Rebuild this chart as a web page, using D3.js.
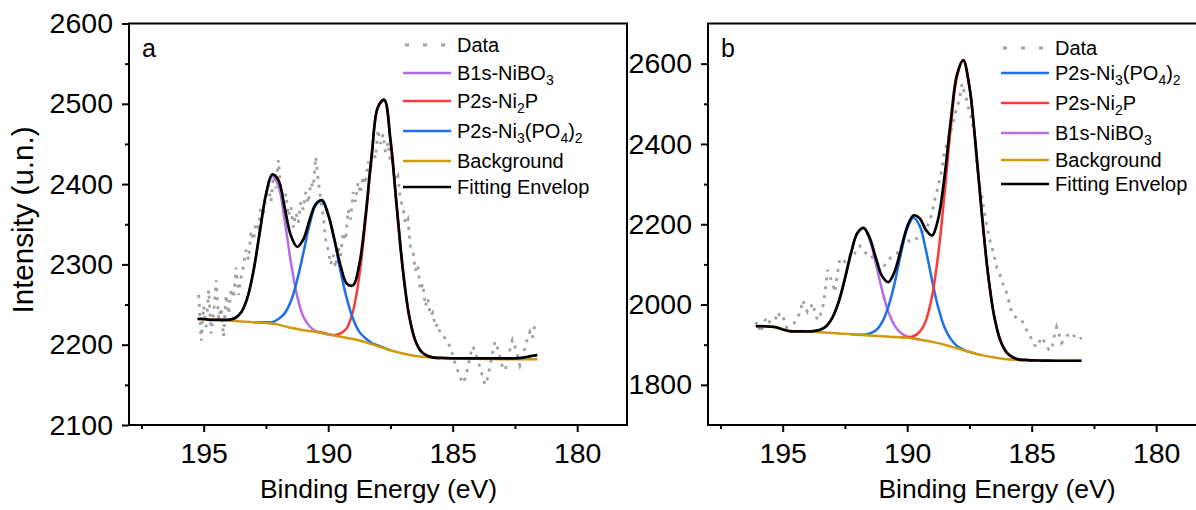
<!DOCTYPE html>
<html>
<head>
<meta charset="utf-8">
<script src="https://cdn.jsdelivr.net/npm/d3@7/dist/d3.min.js"></script>
<style>
  body { margin: 0; background: #fff; }
  text { font-family: Arial, "Liberation Sans", sans-serif; }
</style>
</head>
<body>
<svg id="chart" width="1196" height="510"></svg>
<script>
// ---- data ----
const xTicks = [195, 190, 185, 180]
const xMinor = [197.5, 192.5, 187.5, 182.5]
const yTicksA = [2100, 2200, 2300, 2400, 2500, 2600]
const yMinorA = [2150, 2250, 2350, 2450, 2550]
const yTicksB = [1800, 2000, 2200, 2400, 2600]
const yMinorB = [1700, 1900, 2100, 2300, 2500]

// panel a, raw data (0.1 eV steps from 195.2 eV)
const dataA_start = 195.2
const dataA = [2262,2205,2248,2222,2268,2214,2240,2280,2232,2246,
  2210,2262,2238,2270,2258,2296,2262,2284,2298,2318,
  2306,2342,2330,2352,2346,2372,2360,2384,2398,2378,
  2410,2395,2430,2392,2370,2388,2360,2372,2346,2364,
  2352,2378,2368,2390,2376,2402,2396,2434,2404,2382,
  2360,2330,2318,2300,2312,2296,2322,2310,2340,2330,
  2368,2356,2390,2378,2402,2388,2410,2400,2428,2414,
  2445,2432,2468,2450,2462,2440,2452,2426,2430,2404,
  2410,2380,2372,2350,2356,2322,2318,2292,2300,2268,
  2276,2248,2258,2236,2240,2222,2226,2214,2212,2208,
  2205,2196,2188,2176,2168,2160,2152,2158,2170,2186,
  2198,2192,2180,2172,2160,2150,2158,2174,2190,2204,
  2196,2184,2172,2168,2180,2194,2206,2198,2186,2174,
  2182,2196,2208,2216,2208,2224]

const bgA = [[195.25,2232],[194.5,2231],[194,2230],[193.5,2229],[193,2228],[192.5,2227],[192,2225],[191.5,2221],[191,2218],[190.5,2216],[190,2213],[189.5,2210],[189,2207],[188.5,2203],[188,2198],[187.5,2193],[187,2189],[186.5,2186],[186,2184.5],[185.5,2183.5],[185,2183],[184,2182.5],[183,2182],[182,2182],[181.6,2182]]
const nibo3A = [[194.5,2231],[194.25,2231],[194,2231],[193.75,2233],[193.5,2240],[193.25,2258],[193,2292],[192.75,2339],[192.5,2386],[192.25,2410],[192,2398],[191.75,2355],[191.5,2303],[191.25,2261],[191,2235],[190.75,2223],[190.5,2217],[190.25,2215],[190,2213]]
const ni3po4A = [[193,2228],[192.75,2228],[192.5,2228],[192.25,2228],[192,2232],[191.75,2239],[191.5,2254],[191.25,2280],[191,2314],[190.75,2349],[190.5,2374],[190.25,2379],[190,2362],[189.75,2330],[189.5,2291],[189.25,2257],[189,2232],[188.75,2216],[188.5,2208],[188.25,2202],[188,2199],[187.75,2196],[187.5,2193]]
const ni2pA = [[190.5,2216],[190.25,2215],[190,2213],[189.75,2212],[189.5,2214],[189.25,2221],[189,2242],[188.75,2286],[188.5,2355],[188.25,2436],[188,2496],[187.75,2504],[187.5,2455],[187.25,2373],[187,2293],[186.75,2236],[186.5,2205],[186.25,2191],[186,2186],[185.75,2184],[185.5,2183]]
const envA = [[195.25,2232],[195,2232],[194.75,2231],[194.5,2231],[194.25,2231],[194,2231],[193.75,2233],[193.5,2240],[193.25,2258],[193,2292],[192.75,2340],[192.5,2387],[192.25,2412],[192,2405],[191.75,2371],[191.5,2336],[191.25,2322],[191,2331],[190.75,2355],[190.5,2375],[190.25,2380],[190,2362],[189.75,2331],[189.5,2298],[189.25,2276],[189,2274],[188.75,2300],[188.5,2360],[188.25,2437],[188,2496],[187.75,2505],[187.5,2455],[187.25,2373],[187,2293],[186.75,2236],[186.5,2205],[186.25,2191],[186,2186],[185.75,2184],[185.5,2183.5],[185,2183],[184,2183],[183,2183],[182.5,2183],[182.25,2183.5],[182,2185],[181.75,2186.5],[181.6,2187]]

// panel b, raw data (0.1 eV steps from 196.1 eV)
const dataB_start = 196.1
const dataB = [1950,1957,1930,1944,1962,1969,1952,1941,1962,1981,
  1970,1974,1950,1938,1929,1946,1958,1970,1979,2011,
  1996,1981,1990,2003,1980,1961,1972,1990,2030,2086,
  2070,2052,2031,2078,2115,2112,2106,2110,2122,2134,
  2128,2140,2146,2136,2130,2126,2128,2118,2110,2102,
  2096,2092,2098,2106,2114,2120,2124,2128,2140,2150,
  2156,2160,2158,2162,2160,2166,2172,2180,2190,2193,
  2210,2227,2260,2284,2310,2340,2384,2400,2426,2440,
  2470,2490,2512,2550,2526,2508,2480,2460,2426,2342,
  2300,2267,2230,2193,2164,2143,2118,2092,2078,2060,
  2040,2029,2004,1979,1972,1966,1962,1961,1948,1936,
  1929,1912,1900,1894,1906,1919,1908,1896,1887,1887,
  1920,1944,1926,1904,1912,1920,1929,1929,1922,1916,
  1912,1918]

const bgB = [[196.08,1946],[195.75,1946],[195.5,1945],[195.25,1943],[195,1938],[194.75,1934],[194.5,1933],[194,1933],[193.5,1931],[193,1929],[192.5,1927],[192,1925],[191.5,1923],[191,1921],[190.5,1919],[190,1917],[189.5,1913],[189,1907],[188.5,1900],[188,1891],[187.5,1882],[187,1874],[186.5,1868],[186,1864],[185.5,1862],[185,1861],[184,1860],[183,1860]]
const nibo3B = [[194,1933],[193.75,1934],[193.5,1937],[193.25,1946],[193,1968],[192.75,2007],[192.5,2065],[192.25,2129],[192,2178],[191.75,2190],[191.5,2160],[191.25,2100],[191,2034],[190.75,1981],[190.5,1947],[190.25,1929],[190,1920],[189.75,1916],[189.5,1913]]
const ni3po4B = [[192.25,1926],[192,1925],[191.75,1925],[191.5,1928],[191.25,1936],[191,1957],[190.75,1996],[190.5,2055],[190.25,2127],[190,2189],[189.75,2216],[189.5,2196],[189.25,2136],[189,2060],[188.75,1992],[188.5,1943],[188.25,1914],[188,1897],[187.75,1888],[187.5,1882],[187.25,1878]]
const ni2pB = [[190.25,1918],[190,1919],[189.75,1921],[189.5,1932],[189.25,1960],[189,2021],[188.75,2127],[188.5,2276],[188.25,2440],[188,2567],[187.75,2607],[187.5,2542],[187.25,2396],[187,2224],[186.75,2074],[186.5,1969],[186.25,1909],[186,1880],[185.75,1868],[185.5,1863],[185.25,1862],[185,1861]]
const envB = [[196.08,1946],[195.75,1946],[195.5,1945],[195.25,1943],[195,1938],[194.75,1934],[194.5,1933],[194.25,1933],[194,1933],[193.75,1934],[193.5,1937],[193.25,1946],[193,1968],[192.75,2007],[192.5,2065],[192.25,2130],[192,2178],[191.75,2191],[191.5,2165],[191.25,2114],[191,2070],[190.75,2056],[190.5,2083],[190.25,2138],[190,2194],[189.75,2222],[189.5,2215],[189.25,2186],[189,2172],[188.75,2215],[188.5,2320],[188.25,2458],[188,2573],[187.75,2609],[187.5,2542],[187.25,2396],[187,2224],[186.75,2074],[186.5,1969],[186.25,1909],[186,1880],[185.75,1868],[185.5,1863],[185.25,1862],[185,1861],[184.5,1860.5],[184,1860],[183.5,1860],[183,1860]]

const legendA = ["Data", "B1s-NiBO_3", "P2s-Ni_2P", "P2s-Ni_3(PO_4)_2", "Background", "Fitting Envelop"]
const legendB = ["Data", "P2s-Ni_3(PO_4)_2", "P2s-Ni_2P", "B1s-NiBO_3", "Background", "Fitting Envelop"]

// ---- styles ----
const clr = {
  data: "#a0a0a0",
  nibo3: "#b36ee3",
  ni2p: "#ff3838",
  ni3po4: "#1f6fe6",
  bg: "#cf9a10",
  env: "#000000"
}

const svg = d3.select("#chart")
const W = 498, H = 401.5
const top0 = 23.5

function drawPanel(id, left, yDomain, yTicks, yMinor, series, data0, data, legend, legendRows, legendX, letter) {
  const g = svg.append("g").attr("transform", `translate(${left},${top0})`)
  const x = d3.scaleLinear().domain([198, 178]).range([0, W])
  const y = d3.scaleLinear().domain(yDomain).range([H, 0])

  svg.append("clipPath").attr("id", "clip" + id)
    .append("rect").attr("width", W).attr("height", H)

  const plot = g.append("g").attr("clip-path", `url(#clip${id})`)

  // raw data as dotted line
  const pts = data.map((v, i) => [data0 - i * 0.1, v])
  plot.append("path")
    .attr("d", d3.line().x(d => x(d[0])).y(d => y(d[1]))(pts))
    .attr("fill", "none").attr("stroke", clr.data)
    .attr("stroke-width", 2.8).attr("stroke-dasharray", "3,6")

  const smooth = d3.line().x(d => x(d[0])).y(d => y(d[1])).curve(d3.curveCatmullRom.alpha(0.5))
  series.forEach(s => {
    plot.append("path").attr("d", smooth(s.pts))
      .attr("fill", "none").attr("stroke", s.clr)
      .attr("stroke-width", s.w).attr("stroke-linejoin", "round")
  })

  // axes
  const xa = g.append("g").attr("transform", `translate(0,${H})`)
    .call(d3.axisBottom(x).tickValues(xTicks).tickSize(7).tickPadding(11).tickFormat(d3.format("d")))
  const xm = g.append("g").attr("transform", `translate(0,${H})`)
    .call(d3.axisBottom(x).tickValues(xMinor).tickSize(4).tickFormat(""))
  const ya = g.append("g")
    .call(d3.axisLeft(y).tickValues(yTicks).tickSize(7).tickPadding(9).tickFormat(d3.format("d")))
  const ym = g.append("g")
    .call(d3.axisLeft(y).tickValues(yMinor.filter(v => v > yDomain[0])).tickSize(4).tickFormat(""))
  ;[xa, xm, ya, ym].forEach(a => {
    a.select(".domain").remove()
    a.selectAll("line").attr("stroke", "#000").attr("stroke-width", 2)
    a.selectAll("text").attr("font-size", 28.5).attr("font-family", "Arial, 'Liberation Sans', sans-serif").attr("fill", "#000")
  })

  // frame
  g.append("rect").attr("width", W).attr("height", H)
    .attr("fill", "none").attr("stroke", "#000").attr("stroke-width", 2)

  g.append("text").attr("x", 13).attr("y", 57 - top0).attr("font-size", 25).text(letter)

  // legend
  const legClr = { "Data": clr.data, "Background": clr.bg, "Fitting Envelop": clr.env,
    "B1s-NiBO_3": clr.nibo3, "P2s-Ni_2P": clr.ni2p, "P2s-Ni_3(PO_4)_2": clr.ni3po4 }
  legend.forEach((lab, i) => {
    const ly = legendRows[i] - top0
    const lx = legendX - left
    const ln = g.append("line").attr("x1", lx).attr("x2", lx + 48).attr("y1", ly).attr("y2", ly)
      .attr("stroke", legClr[lab]).attr("stroke-width", lab === "Data" ? 3 : 2.6)
    if (lab === "Data") ln.attr("stroke-dasharray", "4,14").attr("x1", lx + 2)
    const t = g.append("text").attr("x", lx + 54).attr("y", ly + 7).attr("font-size", 20)
    lab.split(/_(\w)/).forEach((part, k) => {
      if (part === "") return
      if (k % 2 === 1) t.append("tspan").attr("font-size", 14).attr("dy", 5).text(part)
      else t.append("tspan").attr("dy", k === 0 ? 0 : -5).text(part)
    })
  })
  return { x, y }
}

drawPanel("a", 129, [2100, 2600], yTicksA, yMinorA, [
  { pts: nibo3A, clr: clr.nibo3, w: 2.5 },
  { pts: ni2pA, clr: clr.ni2p, w: 2.5 },
  { pts: ni3po4A, clr: clr.ni3po4, w: 2.5 },
  { pts: bgA, clr: clr.bg, w: 2.5 },
  { pts: envA, clr: clr.env, w: 2.7 }
], dataA_start, dataA, legendA, [45, 73, 101, 131, 161, 187], 403, "a")

drawPanel("b", 708, [1700, 2700], yTicksB, yMinorB, [
  { pts: nibo3B, clr: clr.nibo3, w: 2.5 },
  { pts: ni3po4B, clr: clr.ni3po4, w: 2.5 },
  { pts: ni2pB, clr: clr.ni2p, w: 2.5 },
  { pts: bgB, clr: clr.bg, w: 2.5 },
  { pts: envB, clr: clr.env, w: 2.7 }
], dataB_start, dataB, legendB, [48, 73, 103, 133, 160, 184], 1001, "b")

// axis titles
svg.append("text").attr("x", 378.5).attr("y", 498).attr("text-anchor", "middle")
  .attr("font-size", 26.5).text("Binding Energy (eV)")
svg.append("text").attr("x", 997).attr("y", 498).attr("text-anchor", "middle")
  .attr("font-size", 26.5).text("Binding Energy (eV)")
svg.append("text").attr("transform", "translate(33,220) rotate(-90)").attr("text-anchor", "middle")
  .attr("font-size", 29.5).text("Intensity (u.n.)")
</script>
</body>
</html>
